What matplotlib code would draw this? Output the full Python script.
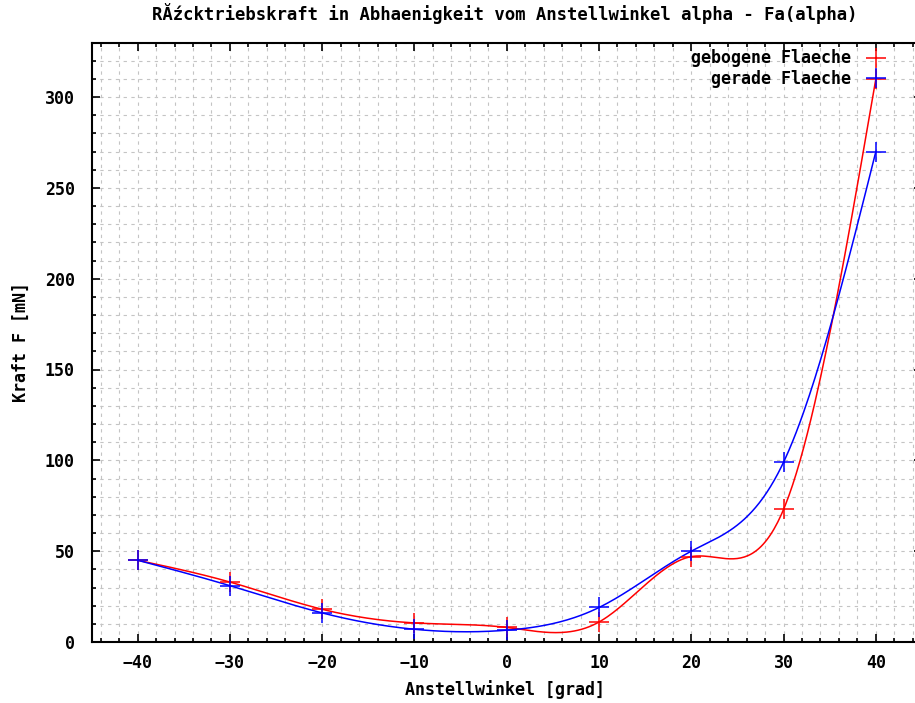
import numpy as np
import matplotlib
matplotlib.use("Agg")
import matplotlib.pyplot as plt
from matplotlib.lines import Line2D
from matplotlib.ticker import MultipleLocator

############### DATA ###############

ANGLE = [-40, -30, -20, -10, 0, 10, 20, 30, 40]
FORCE_GEBOGEN = [45, 33, 18, 10.5, 8, 11, 47, 73, 310]
FORCE_GERADE = [45, 31, 16, 7, 6.5, 19, 50, 99, 270]

TITLE = "RĂźcktriebskraft in Abhaenigkeit vom Anstellwinkel alpha - Fa(alpha)"
XLABEL = "Anstellwinkel [grad]"
YLABEL = "Kraft F [mN]"
LABEL_GEBOGEN = "gebogene Flaeche"
LABEL_GERADE = "gerade Flaeche"

FONT = "DejaVu Sans Mono"
FSIZE = 12


############### SMOOTHING (like gnuplot csplines) ###############

def natural_spline(x, y, num=400):
    x = np.asarray(x, float)
    y = np.asarray(y, float)
    n = len(x)
    h = np.diff(x)
    A = np.zeros((n, n))
    b = np.zeros(n)
    A[0, 0] = 1
    A[-1, -1] = 1
    for i in range(1, n - 1):
        A[i, i - 1] = h[i - 1]
        A[i, i] = 2 * (h[i - 1] + h[i])
        A[i, i + 1] = h[i]
        b[i] = 3 * ((y[i + 1] - y[i]) / h[i] - (y[i] - y[i - 1]) / h[i - 1])
    c = np.linalg.solve(A, b)
    xs = np.linspace(x[0], x[-1], num)
    idx = np.clip(np.searchsorted(x, xs) - 1, 0, n - 2)
    dx = xs - x[idx]
    bb = (y[idx + 1] - y[idx]) / h[idx] - h[idx] * (2 * c[idx] + c[idx + 1]) / 3
    dd = (c[idx + 1] - c[idx]) / (3 * h[idx])
    ys = y[idx] + bb * dx + c[idx] * dx ** 2 + dd * dx ** 3
    return xs, ys


############### PLOT ###############

fig = plt.figure(figsize=(9.15, 7.03), dpi=100)
ax = fig.add_axes([91.5 / 915, 61 / 703, 830.5 / 915, 599.5 / 703])

for data, color in ((FORCE_GEBOGEN, "#ff0000"), (FORCE_GERADE, "#0000ff")):
    xs, ys = natural_spline(ANGLE, data)
    ax.plot(xs, ys, color=color, lw=1.1, zorder=3)
    ax.plot(ANGLE, data, ls="none", marker="+", ms=14.5, mew=1.1, color=color, zorder=4)

ax.set_xlim(-45, 45)
ax.set_ylim(0, 330)
ax.xaxis.set_major_locator(MultipleLocator(10))
ax.xaxis.set_minor_locator(MultipleLocator(2))
ax.yaxis.set_major_locator(MultipleLocator(50))
ax.yaxis.set_minor_locator(MultipleLocator(10))

ax.grid(which="both", color="#c4c4c4", ls=(0, (3, 4)), lw=0.8, zorder=0)
ax.tick_params(which="both", direction="in", top=True, right=True, color="black", width=1.2)
ax.tick_params(which="major", length=6)
ax.tick_params(which="minor", length=3)
ax.tick_params(axis="y", which="major", pad=12)
ax.tick_params(axis="x", which="major", pad=9)
for spine in ax.spines.values():
    spine.set_linewidth(1.5)

for lab in ax.get_xticklabels() + ax.get_yticklabels():
    lab.set_fontfamily(FONT)
    lab.set_fontweight("bold")
    lab.set_fontsize(FSIZE)

fig.text(505 / 915, 1 - 690 / 703, XLABEL, ha="center", va="center",
         fontfamily=FONT, fontweight="bold", fontsize=FSIZE)
fig.text(21 / 915, 1 - 342 / 703, YLABEL, ha="center", va="center", rotation=90,
         fontfamily=FONT, fontweight="bold", fontsize=FSIZE)
fig.text(505 / 915, 1 - 14 / 703, TITLE, ha="center", va="center",
         fontfamily=FONT, fontweight="bold", fontsize=12.4)

handles = [
    Line2D([], [], ls="none", marker="+", ms=14.5, mew=1.1, color="#ff0000", label=LABEL_GEBOGEN),
    Line2D([], [], ls="none", marker="+", ms=14.5, mew=1.1, color="#0000ff", label=LABEL_GERADE),
]
ax.legend(handles=handles, loc="upper right", bbox_to_anchor=(893 / 915, 1 - 41 / 703),
          bbox_transform=fig.transFigure, frameon=False, markerfirst=False,
          handlelength=1.0, handletextpad=1.0, labelspacing=0.15, borderpad=0,
          prop={"family": FONT, "weight": "bold", "size": FSIZE})

fig.savefig("out.png", dpi=100)
